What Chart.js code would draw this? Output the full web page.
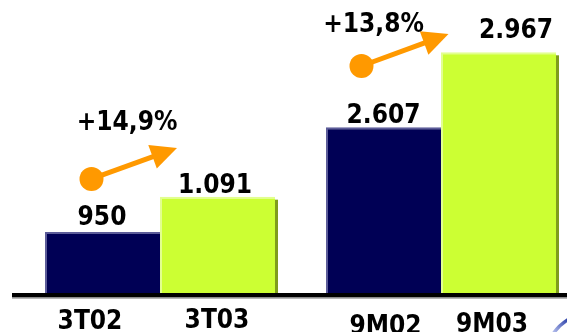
<!DOCTYPE html>
<html>
<head>
<meta charset="utf-8">
<script src="https://cdn.jsdelivr.net/npm/chart.js@4/dist/chart.umd.min.js"></script>
<style>
  html, body { margin: 0; padding: 0; background: #fff; overflow: hidden; }
  #wrap { position: relative; width: 567px; height: 332px; }
</style>
</head>
<body>
<div id="wrap"><canvas id="c"></canvas></div>
<script>
// ---- data ----
const groups = ['3T', '9M'];
const periodLabels = ['3T02', '3T03', '9M02', '9M03'];
const prevYear = [950, 2607];     // 3T02, 9M02
const currYear = [1091, 2967];    // 3T03, 9M03
const growthLabels = ['+14,9%', '+13,8%'];

// ---- style ----
const NAVY = '#000055', NAVY_EDGE = '#5c5c99';
const LIME = '#ccff33', LIME_EDGE = '#e2ff90', LIME_SHADOW = '#7f9c1c';
const ORANGE = '#ff9900';
const FONT = 'bold 26px "DejaVu Sans Condensed", "DejaVu Sans", sans-serif';
// label offsets relative to bar (center x, top y)
const valueShift = [[-0.5, -7], [-2.5, -3.4], [0, -4.6], [17.5, -14]];
// category label offsets relative to bar center x and chart bottom
const catShift = [[-12.5, 35.5], [-0.5, 34.5], [2, 40.5], [-6.5, 39]];
// arrow: circle relative to previous-year bar, tip relative to current-year bar
const arrowStyle = [
  { c: [-11, -53], t: [-40.5, -48.7], lbl: [35.5, -49] },
  { c: [-22, -61.3], t: [-50, -18.3], lbl: [12, -33.7] }
];
const CLIP = { left: 200, right: 200, top: 20, bottom: 0 };

function fmt(v) { return String(v).replace(/\B(?=(\d{3})+(?!\d))/g, '.'); }

const datasets = [];
groups.forEach((g, i) => {
  const axis = i === 0 ? 'y' : 'y2';
  datasets.push({
    label: periodLabels[2 * i],
    data: groups.map((_, j) => j === i ? prevYear[i] : null),
    yAxisID: axis,
    backgroundColor: NAVY,
    borderColor: NAVY_EDGE,
    borderWidth: { top: 2, left: 2, right: 0, bottom: 0 },
    borderSkipped: false,
    skipNull: true,
    clip: CLIP
  });
  datasets.push({
    label: periodLabels[2 * i + 1],
    data: groups.map((_, j) => j === i ? currYear[i] : null),
    yAxisID: axis,
    backgroundColor: LIME,
    borderColor: LIME_EDGE,
    borderWidth: { top: 2, left: 2, right: 0, bottom: 0 },
    borderSkipped: false,
    skipNull: true,
    clip: CLIP
  });
});

function barGeom(chart, k) {
  const g = Math.floor(k / 2);
  const el = chart.getDatasetMeta(k).data[g];
  return { x: el.x, y: el.y, base: Math.min(el.base, chart.chartArea.bottom), w: el.width };
}

const decor = {
  id: 'decor',
  beforeDatasetsDraw(chart) {
    const ctx = chart.ctx;
    ctx.save();
    for (let k = 1; k < 4; k += 2) {
      const b = barGeom(chart, k);
      ctx.fillStyle = LIME_SHADOW;
      ctx.fillRect(b.x - b.w / 2 + 3, b.y + 3, b.w, b.base - b.y + 1);
    }
    ctx.restore();
  },
  afterDatasetsDraw(chart) {
    const ctx = chart.ctx;
    const area = chart.chartArea;
    ctx.save();
    // baseline
    ctx.fillStyle = '#000';
    ctx.fillRect(12, area.bottom, 567 - 12, 4.5);
    ctx.fillStyle = '#999';
    ctx.fillRect(12, area.bottom + 4.5, 567 - 12, 1.2);

    ctx.font = FONT;
    ctx.textAlign = 'center';
    ctx.textBaseline = 'alphabetic';
    ctx.fillStyle = '#000';
    const allVals = [prevYear[0], currYear[0], prevYear[1], currYear[1]];
    for (let k = 0; k < 4; k++) {
      const b = barGeom(chart, k);
      ctx.fillText(fmt(allVals[k]), b.x + valueShift[k][0], b.y + valueShift[k][1]);
      ctx.fillText(periodLabels[k], b.x + catShift[k][0], area.bottom + catShift[k][1]);
    }

    // growth arrows
    groups.forEach((g, i) => {
      const p = barGeom(chart, 2 * i), c = barGeom(chart, 2 * i + 1);
      const st = arrowStyle[i];
      const x0 = p.x + st.c[0], y0 = p.y + st.c[1];
      const x1 = c.x + st.t[0], y1 = c.y + st.t[1];
      const dx = x1 - x0, dy = y1 - y0, L = Math.hypot(dx, dy);
      const ux = dx / L, uy = dy / L;
      const headLen = 26, headHalf = 12.5;
      const bx = x1 - ux * headLen, by = y1 - uy * headLen;
      ctx.strokeStyle = ORANGE;
      ctx.fillStyle = ORANGE;
      ctx.lineWidth = 5;
      ctx.beginPath();
      ctx.moveTo(x0, y0);
      ctx.lineTo(bx + ux * 2, by + uy * 2);
      ctx.stroke();
      ctx.beginPath();
      ctx.moveTo(x1, y1);
      ctx.lineTo(bx - uy * headHalf, by + ux * headHalf);
      ctx.lineTo(bx + uy * headHalf, by - ux * headHalf);
      ctx.closePath();
      ctx.fill();
      ctx.beginPath();
      ctx.arc(x0, y0, 12, 0, Math.PI * 2);
      ctx.fill();
      ctx.fillStyle = '#000';
      ctx.fillText(growthLabels[i], x0 + st.lbl[0], y0 + st.lbl[1]);
    });

    // corner swoosh
    const grad = ctx.createLinearGradient(552, 332, 567, 318);
    grad.addColorStop(0, '#b8c2ee');
    grad.addColorStop(1, '#2a3fa8');
    ctx.strokeStyle = grad;
    ctx.lineWidth = 3.5;
    ctx.beginPath();
    ctx.moveTo(553, 334);
    ctx.quadraticCurveTo(559, 325, 569, 319);
    ctx.stroke();
    ctx.restore();
  }
};

new Chart(document.getElementById('c'), {
  type: 'bar',
  data: { labels: groups, datasets },
  options: {
    responsive: true,
    maintainAspectRatio: false,
    animation: false,
    devicePixelRatio: 1,
    layout: { padding: { left: 160, right: 126, top: 0, bottom: 39 } },
    datasets: { bar: { categoryPercentage: 0.8185, barPercentage: 1 } },
    plugins: { legend: { display: false }, tooltip: { enabled: false } },
    scales: {
      x: { display: false, offset: false, grid: { display: false } },
      y: { display: false, min: 706, max: 1877 },
      y2: { display: false, min: 1812, max: 3218 }
    }
  },
  plugins: [decor]
});
</script>
</body>
</html>
